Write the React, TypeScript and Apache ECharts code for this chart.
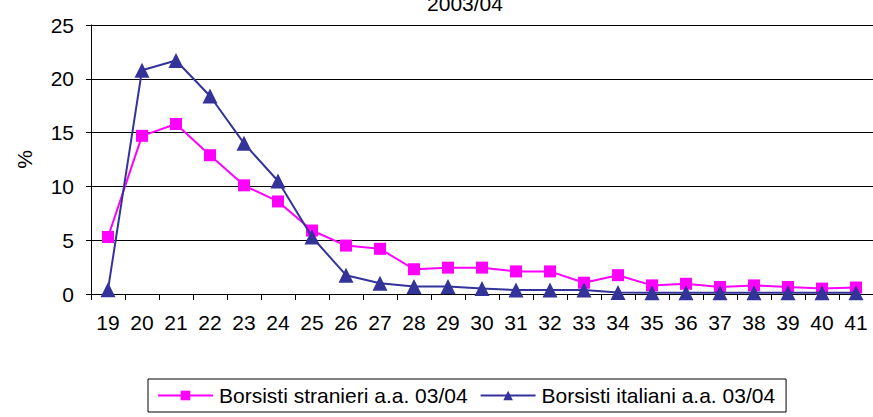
import React, { useEffect, useRef } from "react";
import * as echarts from "echarts";

const titleText = "2003/04";
const categories = ["19","20","21","22","23","24","25","26","27","28","29","30","31","32","33","34","35","36","37","38","39","40","41"];
const stranieriName = "Borsisti stranieri a.a. 03/04";
const italianiName = "Borsisti italiani a.a. 03/04";
const stranieri = [5.3, 14.7, 15.8, 12.9, 10.1, 8.6, 5.9, 4.5, 4.2, 2.3, 2.45, 2.45, 2.1, 2.1, 1.05, 1.75, 0.8, 0.95, 0.65, 0.8, 0.65, 0.5, 0.6];
const italiani = [0.4, 20.8, 21.7, 18.4, 14.0, 10.5, 5.3, 1.75, 1.0, 0.7, 0.7, 0.5, 0.37, 0.37, 0.37, 0.15, 0.12, 0.12, 0.12, 0.12, 0.12, 0.12, 0.12];

const FONT = "'Liberation Sans', Arial, sans-serif";
const FS = 21;

export default function App() {
  const ref = useRef<HTMLDivElement>(null);
  useEffect(() => {
    if (!ref.current) return;
    const chart = echarts.init(ref.current, null, { renderer: "svg" });
    chart.setOption({
      animation: false,
      backgroundColor: "#ffffff",
      title: {
        text: titleText,
        left: 465,
        textAlign: "center",
        top: -7,
        padding: 0,
        textStyle: { fontFamily: FONT, fontSize: FS, fontWeight: "normal", color: "#000" },
      },
      grid: { left: 91, right: -5, top: 25, bottom: 123, containLabel: false },
      legend: {
        left: 148,
        top: 379,
        data: [stranieriName, italianiName],
        itemWidth: 55,
        itemHeight: 12,
        itemGap: 12,
        borderColor: "#000",
        borderWidth: 1,
        borderRadius: 0,
        padding: [6, 11, 6, 9],
        textStyle: { fontFamily: FONT, fontSize: FS, color: "#000", padding: [0, 0, 0, 1] },
      },
      xAxis: {
        type: "category",
        data: categories,
        boundaryGap: true,
        axisLine: { lineStyle: { color: "#000", width: 1 } },
        axisTick: { show: true, length: 6, lineStyle: { color: "#000" } },
        axisLabel: { fontFamily: FONT, fontSize: FS, color: "#000", margin: 18, interval: 0 },
        splitLine: { show: false },
      },
      yAxis: {
        type: "value",
        min: 0,
        max: 25,
        interval: 5,
        name: "%",
        nameLocation: "middle",
        nameGap: 56,
        nameRotate: 90,
        nameTextStyle: { fontFamily: FONT, fontSize: FS, color: "#000" },
        axisLine: { show: true, lineStyle: { color: "#000", width: 1 } },
        axisTick: { show: true, length: 5, lineStyle: { color: "#000" } },
        axisLabel: { fontFamily: FONT, fontSize: FS, color: "#000", margin: 17 },
        splitLine: { show: true, lineStyle: { color: "#000", width: 1 } },
      },
      series: [
        {
          name: stranieriName,
          type: "line",
          data: stranieri,
          symbol: "rect",
          symbolSize: 12,
          itemStyle: { color: "#FF00FF" },
          lineStyle: { color: "#FF00FF", width: 2 },
          z: 2,
        },
        {
          name: italianiName,
          type: "line",
          data: italiani,
          symbol: "triangle",
          symbolSize: 15,
          itemStyle: { color: "#333399" },
          lineStyle: { color: "#333399", width: 2 },
          z: 3,
        },
      ],
    });
    return () => chart.dispose();
  }, []);
  return (
    <div
      ref={ref}
      style={{ position: "fixed", left: 0, top: 0, width: 873, height: 417, background: "#fff" }}
    />
  );
}
